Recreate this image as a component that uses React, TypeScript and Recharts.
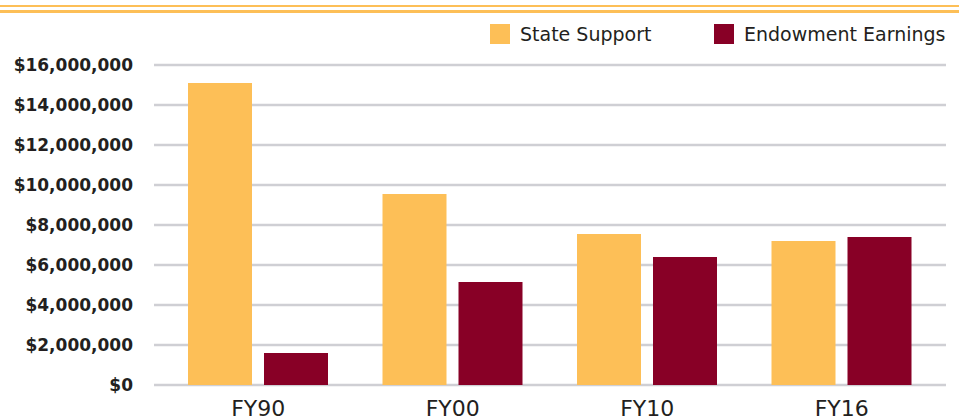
import React from "react";
import { BarChart, Bar, XAxis, YAxis, CartesianGrid, Legend } from "recharts";

const categories = ["FY90", "FY00", "FY10", "FY16"];
const stateSupport = [15100000, 9550000, 7550000, 7200000];
const endowmentEarnings = [1600000, 5150000, 6400000, 7400000];
const yTicks = [0, 2000000, 4000000, 6000000, 8000000, 10000000, 12000000, 14000000, 16000000];

const STATE_COLOR = "#FDBF57";
const ENDOW_COLOR = "#880026";
const TEXT_COLOR = "#231f20";
const FONT = "'DejaVu Sans', sans-serif";

const data = categories.map((c, i) => ({
  name: c,
  state: stateSupport[i],
  endow: endowmentEarnings[i],
}));

const fmt = (v: number) => "$" + v.toLocaleString("en-US");

const LegendContent = () => (
  <div style={{ position: "relative", width: 963, height: 30, fontFamily: FONT }}>
    <div style={{ position: "absolute", left: 490, top: 0, width: 20, height: 20, background: STATE_COLOR }} />
    <div style={{ position: "absolute", left: 520, top: -2, fontSize: 19, lineHeight: "24px", color: TEXT_COLOR, whiteSpace: "nowrap" }}>
      State Support
    </div>
    <div style={{ position: "absolute", left: 714, top: 0, width: 20, height: 20, background: ENDOW_COLOR }} />
    <div style={{ position: "absolute", left: 744, top: -2, fontSize: 19, lineHeight: "24px", color: TEXT_COLOR, whiteSpace: "nowrap" }}>
      Endowment Earnings
    </div>
  </div>
);

export default function App() {
  return (
    <div style={{ position: "absolute", left: 0, top: 0, width: 963, height: 420, background: "#fff", overflow: "hidden" }}>
      <div style={{ position: "absolute", left: 0, top: 5, width: 959, height: 2, background: STATE_COLOR }} />
      <div style={{ position: "absolute", left: 0, top: 10, width: 959, height: 2.5, background: STATE_COLOR }} />
      <BarChart
        width={963}
        height={420}
        data={data}
        margin={{ top: 35, right: 17, bottom: 0, left: 0 }}
        barSize={64}
        barGap={12}
      >
        <CartesianGrid horizontal vertical={false} stroke="#cfcfd4" strokeWidth={2.5} />
        <XAxis
          dataKey="name"
          axisLine={false}
          tickLine={false}
          tickSize={0}
          tickMargin={15}
          height={35}
          padding={{ left: 7, right: 7 }}
          tick={{ fill: TEXT_COLOR, fontSize: 22, fontFamily: FONT }}
          interval={0}
        />
        <YAxis
          domain={[0, 16000000]}
          ticks={yTicks}
          width={154}
          axisLine={false}
          tickLine={false}
          tickSize={0}
          tickMargin={21}
          tickFormatter={fmt}
          tick={{ fill: TEXT_COLOR, fontSize: 17, fontFamily: FONT, fontWeight: 700 }}
          interval={0}
        />
        <Legend
          verticalAlign="top"
          content={<LegendContent />}
          wrapperStyle={{ position: "absolute", left: 0, top: 24, width: 963, height: 30 }}
        />
        <Bar dataKey="state" name="State Support" fill={STATE_COLOR} isAnimationActive={false} />
        <Bar dataKey="endow" name="Endowment Earnings" fill={ENDOW_COLOR} isAnimationActive={false} />
      </BarChart>
    </div>
  );
}
